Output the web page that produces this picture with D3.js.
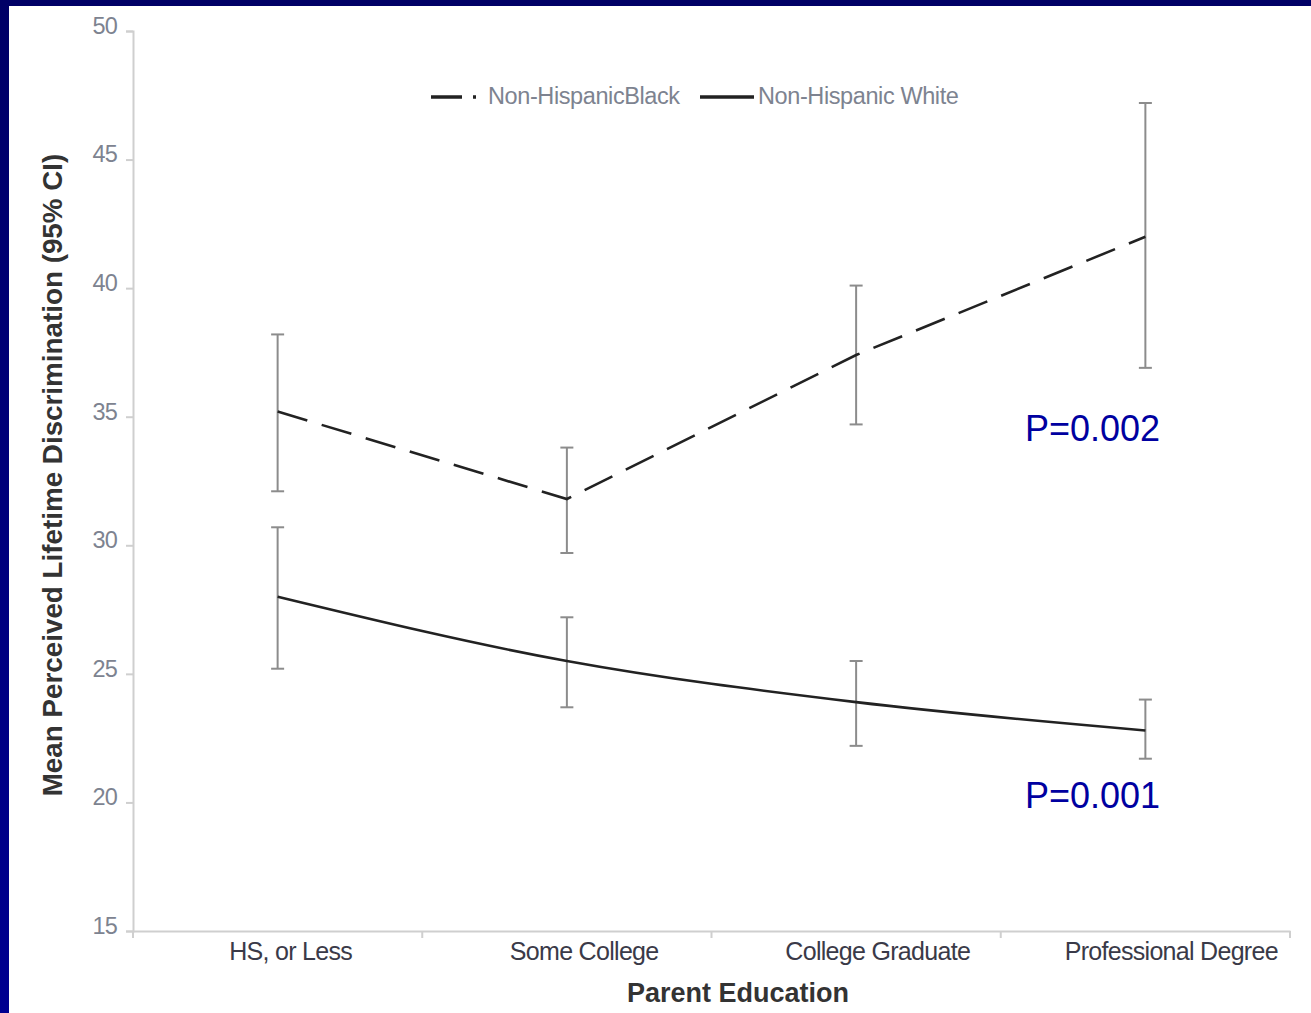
<!DOCTYPE html>
<html>
<head>
<meta charset="utf-8">
<script src="https://cdn.jsdelivr.net/npm/d3@7"></script>
<style>
  html, body { margin: 0; padding: 0; }
  body { width: 1311px; height: 1013px; overflow: hidden; }
</style>
</head>
<body>
<svg id="chart" width="1311" height="1013"></svg>
<script>
const categories = ["HS, or Less", "Some College", "College Graduate", "Professional Degree"];
const blackMean = [35.2, 31.8, 37.4, 42.0];
const blackLow  = [32.1, 29.7, 34.7, 36.9];
const blackHigh = [38.2, 33.8, 40.1, 47.2];
const whiteMean = [28.0, 25.5, 23.9, 22.8];
const whiteLow  = [25.2, 23.7, 22.2, 21.7];
const whiteHigh = [30.7, 27.2, 25.5, 24.0];
const yTicks = [15, 20, 25, 30, 35, 40, 45, 50];
const pLabels = [{text: "P=0.002", v: 34.05}, {text: "P=0.001", v: 19.8}];

const W = 1311, H = 1013;
const margin = {top: 31, right: 21, bottom: 82, left: 133};

const svg = d3.select("#chart");

// navy frame
const defs = svg.append("defs");
const grad = defs.append("linearGradient").attr("id", "frame").attr("x1", 0).attr("y1", 0).attr("x2", 0).attr("y2", 1);
grad.append("stop").attr("offset", "0%").attr("stop-color", "#000066");
grad.append("stop").attr("offset", "100%").attr("stop-color", "#000090");
svg.append("rect").attr("width", W).attr("height", H).attr("fill", "url(#frame)");
svg.append("rect").attr("x", 9).attr("y", 6).attr("width", W - 9).attr("height", H - 6).attr("fill", "#fff");

const x = d3.scaleBand().domain(categories).range([margin.left, W - margin.right]).padding(0);
const y = d3.scaleLinear().domain([15, 50]).range([H - margin.bottom, margin.top]);
const cx = c => x(c) + x.bandwidth() / 2;

// y axis
const yAxis = svg.append("g")
  .attr("transform", `translate(${margin.left},0)`)
  .call(d3.axisLeft(y).tickValues(yTicks).tickSize(7).tickPadding(9).tickFormat(d3.format("d")));
yAxis.select(".domain").attr("stroke", "#cfcfcf").attr("stroke-width", 2);
yAxis.selectAll(".tick line").attr("stroke", "#cfcfcf").attr("stroke-width", 2);
yAxis.selectAll(".tick text")
  .attr("font-family", "Liberation Sans, Arial, sans-serif")
  .attr("font-size", 23.5).attr("letter-spacing", "-0.8px")
  .attr("fill", "#7d8390").attr("dy", "0.1em");

// x axis
const xAxis = svg.append("g")
  .attr("transform", `translate(0,${y(15)})`)
  .call(d3.axisBottom(x).tickSize(0).tickPadding(11).tickSizeOuter(0));
xAxis.select(".domain").attr("stroke", "#cfcfcf").attr("stroke-width", 2);
xAxis.selectAll(".tick text")
  .attr("font-family", "Liberation Sans, Arial, sans-serif")
  .attr("font-size", 25).attr("letter-spacing", "-0.7px")
  .attr("fill", "#3a3a48").attr("dx", (d, i) => 13 + 4.3 * i);
const bounds = categories.map(c => x(c)).concat([x.range()[1]]);
xAxis.selectAll(".bound").data(bounds).join("line")
  .attr("x1", d => d).attr("x2", d => d).attr("y1", 0).attr("y2", 7)
  .attr("stroke", "#cfcfcf").attr("stroke-width", 2);

// axis titles
svg.append("text")
  .attr("x", 738).attr("y", 1002)
  .attr("text-anchor", "middle")
  .attr("font-family", "Liberation Sans, Arial, sans-serif")
  .attr("font-size", 27).attr("font-weight", "bold").attr("fill", "#333")
  .text("Parent Education");
svg.append("text")
  .attr("transform", "translate(62,475) rotate(-90)")
  .attr("text-anchor", "middle")
  .attr("font-family", "Liberation Sans, Arial, sans-serif")
  .attr("font-size", 27.8).attr("font-weight", "bold").attr("fill", "#333")
  .text("Mean Perceived Lifetime Discrimination (95% CI)");

// error bars
function errorBars(low, high) {
  const g = svg.append("g").attr("stroke", "#8c8c8c").attr("stroke-width", 2);
  categories.forEach((c, i) => {
    g.append("line").attr("x1", cx(c)).attr("x2", cx(c)).attr("y1", y(low[i])).attr("y2", y(high[i]));
    g.append("line").attr("x1", cx(c) - 6.5).attr("x2", cx(c) + 6.5).attr("y1", y(low[i])).attr("y2", y(low[i]));
    g.append("line").attr("x1", cx(c) - 6.5).attr("x2", cx(c) + 6.5).attr("y1", y(high[i])).attr("y2", y(high[i]));
  });
}
errorBars(blackLow, blackHigh);
errorBars(whiteLow, whiteHigh);

// lines
const lineB = d3.line().x((d, i) => cx(categories[i])).y(d => y(d)).curve(d3.curveLinear);
const lineW = d3.line().x((d, i) => cx(categories[i])).y(d => y(d)).curve(d3.curveMonotoneX);
svg.append("path").attr("d", lineB(blackMean))
  .attr("fill", "none").attr("stroke", "#222").attr("stroke-width", 2.6)
  .attr("stroke-dasharray", "31,15");
svg.append("path").attr("d", lineW(whiteMean))
  .attr("fill", "none").attr("stroke", "#222").attr("stroke-width", 2.6);

// legend
const lg = svg.append("g").attr("font-family", "Liberation Sans, Arial, sans-serif")
  .attr("font-size", 23.5).attr("fill", "#7d8390");
lg.append("line").attr("x1", 431).attr("x2", 476).attr("y1", 97).attr("y2", 97)
  .attr("stroke", "#222").attr("stroke-width", 3.5).attr("stroke-dasharray", "31,11");
lg.append("text").attr("x", 488).attr("y", 104).attr("letter-spacing", "-0.4px").text("Non-HispanicBlack");
lg.append("line").attr("x1", 700).attr("x2", 754).attr("y1", 97).attr("y2", 97)
  .attr("stroke", "#222").attr("stroke-width", 3.5);
lg.append("text").attr("x", 758).attr("y", 104).attr("letter-spacing", "-0.4px").text("Non-Hispanic White");

// p-value annotations
svg.selectAll(".pval").data(pLabels).join("text")
  .attr("x", 1025).attr("y", d => y(d.v))
  .attr("font-family", "Liberation Sans, Arial, sans-serif")
  .attr("font-size", 36).attr("fill", "#0000a0")
  .text(d => d.text);
</script>
</body>
</html>
